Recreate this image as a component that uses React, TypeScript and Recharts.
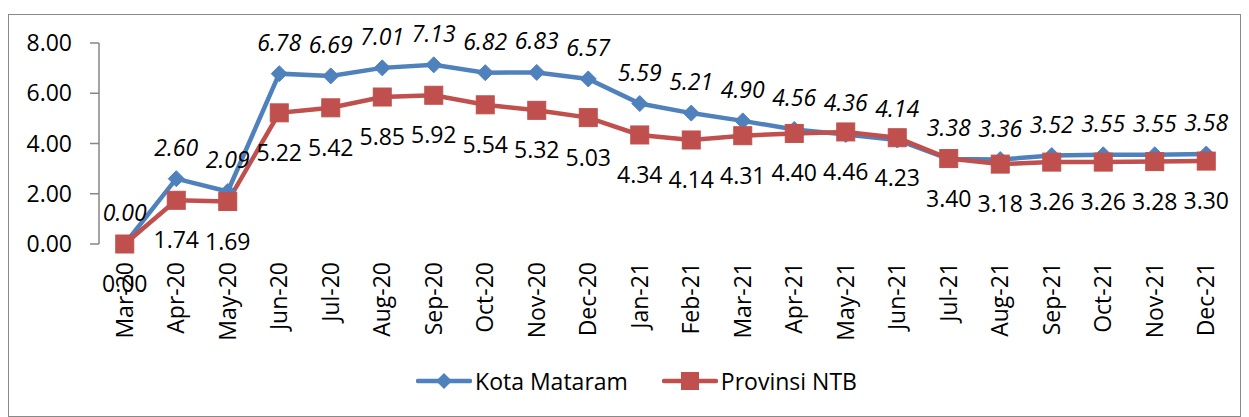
import React from 'react';
import { LineChart, Line, XAxis, YAxis, Legend, LabelList } from 'recharts';

const months = ['Mar-20', 'Apr-20', 'May-20', 'Jun-20', 'Jul-20', 'Aug-20', 'Sep-20', 'Oct-20', 'Nov-20', 'Dec-20', 'Jan-21', 'Feb-21', 'Mar-21', 'Apr-21', 'May-21', 'Jun-21', 'Jul-21', 'Aug-21', 'Sep-21', 'Oct-21', 'Nov-21', 'Dec-21'];
const kotaMataram = [0.0, 2.6, 2.09, 6.78, 6.69, 7.01, 7.13, 6.82, 6.83, 6.57, 5.59, 5.21, 4.9, 4.56, 4.36, 4.14, 3.38, 3.36, 3.52, 3.55, 3.55, 3.58];
const provinsiNTB = [0.0, 1.74, 1.69, 5.22, 5.42, 5.85, 5.92, 5.54, 5.32, 5.03, 4.34, 4.14, 4.31, 4.4, 4.46, 4.23, 3.4, 3.18, 3.26, 3.26, 3.28, 3.3];
const yTicks = [0, 2, 4, 6, 8];

const BLUE = '#4F81BD';
const RED = '#C0504D';
const AXIS = '#868686';
const FONT = '"Open Sans", "Liberation Sans", sans-serif';
const FS = 23;

const data = months.map((m, i) => ({ idx: i, month: m, kota: kotaMataram[i], ntb: provinsiNTB[i] }));
const labelTicks = months.map((_, i) => i);
const boundaryTicks = [...months.map((_, i) => i - 0.5), months.length - 0.5];

const Diamond = (p: any) => {
  const { cx, cy, index } = p;
  if (cx == null || cy == null) return <g key={`d${index}`} />;
  const r = 8;
  return (
    <polygon
      key={`d${index}`}
      points={`${cx},${cy - r} ${cx + r},${cy} ${cx},${cy + r} ${cx - r},${cy}`}
      fill={BLUE}
      stroke={BLUE}
    />
  );
};

const Square = (p: any) => {
  const { cx, cy, index } = p;
  if (cx == null || cy == null) return <g key={`s${index}`} />;
  const s = 18;
  return <rect key={`s${index}`} x={cx - s / 2} y={cy - s / 2} width={s} height={s} fill={RED} stroke={RED} />;
};

const blueLabel = (p: any) => {
  const { x, y, value, index } = p;
  return (
    <text key={`bl${index}`} x={x} y={y - 23} textAnchor="middle" fontFamily={FONT} fontSize={FS} fontStyle="italic" fill="#000">
      {Number(value).toFixed(2)}
    </text>
  );
};

const redLabel = (p: any) => {
  const { x, y, value, index } = p;
  return (
    <text key={`rl${index}`} x={x} y={y + 48} textAnchor="middle" fontFamily={FONT} fontSize={FS} fill="#000">
      {Number(value).toFixed(2)}
    </text>
  );
};

const MonthTick = (p: any) => {
  const { x, y, payload } = p;
  const label = months[Math.round(payload.value)];
  return (
    <text
      x={x}
      y={y}
      transform={`rotate(-90, ${x}, ${y})`}
      textAnchor="end"
      dy="0.35em"
      fontFamily={FONT}
      fontSize={FS}
      fill="#000"
    >
      {label}
    </text>
  );
};

const LegendContent = () => (
  <div style={{ display: 'flex', justifyContent: 'center', alignItems: 'center', paddingLeft: 32, fontFamily: FONT, fontSize: FS, color: '#000' }}>
    <div style={{ display: 'flex', alignItems: 'center', marginRight: 34 }}>
      <svg width={56} height={22}>
        <line x1={2} y1={11} x2={54} y2={11} stroke={BLUE} strokeWidth={4.5} strokeLinecap="round" />
        <polygon points="28,3 36,11 28,19 20,11" fill={BLUE} />
      </svg>
      <span style={{ marginLeft: 3 }}>Kota Mataram</span>
    </div>
    <div style={{ display: 'flex', alignItems: 'center' }}>
      <svg width={56} height={22}>
        <line x1={2} y1={11} x2={54} y2={11} stroke={RED} strokeWidth={4.5} strokeLinecap="round" />
        <rect x={19} y={2} width={18} height={18} fill={RED} />
      </svg>
      <span style={{ marginLeft: 3 }}>Provinsi NTB</span>
    </div>
  </div>
);

export default function App() {
  return (
    <div style={{ marginTop: 6, width: 1231, height: 401, border: '1px solid #898989', background: '#fff' }}>
      <LineChart width={1231} height={401} data={data} margin={{ top: 28, right: 8, left: 0, bottom: 11 }}>
        <XAxis
          xAxisId="b"
          dataKey="idx"
          type="number"
          domain={[-0.5, months.length - 0.5]}
          ticks={boundaryTicks}
          interval={0}
          height={0}
          tick={() => <g />}
          tickSize={8}
          stroke={AXIS}
          axisLine={{ stroke: AXIS, strokeWidth: 1.5 }}
          tickLine={{ stroke: AXIS, strokeWidth: 1.5 }}
        />
        <XAxis
          xAxisId="lab"
          dataKey="idx"
          type="number"
          domain={[-0.5, months.length - 0.5]}
          ticks={labelTicks}
          interval={0}
          height={121}
          axisLine={false}
          tickLine={false}
          tickSize={0}
          tickMargin={18}
          tick={<MonthTick />}
        />
        <YAxis
          domain={[0, 8]}
          ticks={yTicks}
          interval={0}
          width={90}
          tickSize={9}
          tickMargin={18}
          tickFormatter={(v: number) => v.toFixed(2)}
          tick={{ fill: '#000', fontFamily: FONT, fontSize: FS }}
          axisLine={{ stroke: AXIS, strokeWidth: 1.5 }}
          tickLine={{ stroke: AXIS, strokeWidth: 1.5 }}
        />
        <Legend verticalAlign="bottom" height={40} content={<LegendContent />} />
        <Line
          xAxisId="b"
          type="linear"
          dataKey="kota"
          name="Kota Mataram"
          stroke={BLUE}
          strokeWidth={4.5}
          dot={Diamond}
          activeDot={false}
          isAnimationActive={false}
        >
          <LabelList dataKey="kota" content={blueLabel} />
        </Line>
        <Line
          xAxisId="b"
          type="linear"
          dataKey="ntb"
          name="Provinsi NTB"
          stroke={RED}
          strokeWidth={4.5}
          dot={Square}
          activeDot={false}
          isAnimationActive={false}
        >
          <LabelList dataKey="ntb" content={redLabel} />
        </Line>
      </LineChart>
    </div>
  );
}
